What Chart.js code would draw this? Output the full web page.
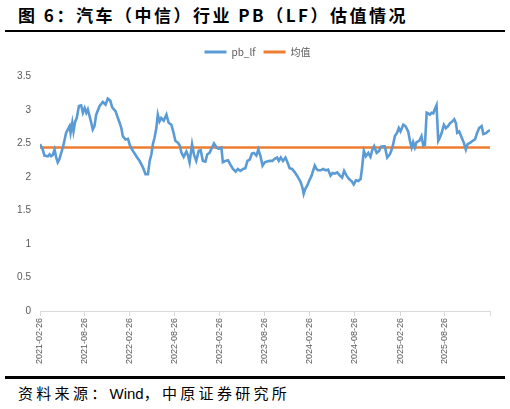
<!DOCTYPE html>
<html><head><meta charset="utf-8">
<script src="https://cdn.jsdelivr.net/npm/chart.js@4.4.1/dist/chart.umd.min.js"></script>
<style>
html,body{margin:0;padding:0;background:#fff;width:510px;height:409px;overflow:hidden;position:relative;font-family:"Noto Sans CJK SC",sans-serif}
#title{position:absolute;left:18px;top:3px;font-size:17px;font-weight:bold;letter-spacing:2.5px;color:#000;white-space:nowrap;line-height:24px}
#rule1{position:absolute;left:5px;top:30px;width:500px;height:2px;background:#000}
#rule2{position:absolute;left:5px;top:376px;width:500px;height:3px;background:#000}
#source{position:absolute;left:18px;top:383px;font-size:15px;letter-spacing:3.3px;color:#000;white-space:nowrap;line-height:20px}
#source .lat{letter-spacing:0;font-family:"Liberation Sans",sans-serif}
#wrap{position:absolute;left:0;top:36px;width:510px;height:336px}
</style></head>
<body>
<div id="title">图 6：汽车（中信）行业 PB（LF）估值情况</div>
<div id="rule1"></div>
<div id="wrap"><canvas id="c"></canvas></div>
<div id="rule2"></div>
<div id="source">资料来源：<span class="lat">Wind</span>，中原证券研究所</div>
<script>
const dates = [
"2021-02-26","2021-03-09","2021-03-16","2021-03-30","2021-04-06","2021-04-12","2021-04-19","2021-04-26","2021-05-03","2021-05-09",
"2021-05-16","2021-05-23","2021-05-30","2021-06-06","2021-06-12","2021-06-19","2021-06-26","2021-06-30","2021-07-07","2021-07-12",
"2021-07-19","2021-07-25","2021-08-03","2021-08-12","2021-08-19","2021-08-26","2021-09-02","2021-09-08","2021-09-15","2021-09-22",
"2021-09-28","2021-10-05","2021-10-12","2021-10-26","2021-11-08","2021-11-19","2021-11-28","2021-12-08","2021-12-16","2021-12-30",
"2022-01-08","2022-01-15","2022-01-22","2022-01-28","2022-02-08","2022-02-18","2022-02-27","2022-03-10","2022-03-24","2022-04-06",
"2022-04-20","2022-04-30","2022-05-10","2022-05-17","2022-05-24","2022-05-30","2022-06-06","2022-06-13","2022-06-19","2022-06-26",
"2022-07-03","2022-07-13","2022-07-24","2022-08-02","2022-08-13","2022-08-22","2022-08-29","2022-09-09","2022-09-16","2022-09-23",
"2022-10-02","2022-10-13","2022-10-19","2022-10-26","2022-11-05","2022-11-13","2022-11-22","2022-12-02","2022-12-10","2022-12-19",
"2022-12-29","2023-01-06","2023-01-15","2023-01-25","2023-02-02","2023-02-12","2023-02-22","2023-03-04","2023-03-10","2023-03-20",
"2023-03-31","2023-04-10","2023-04-20","2023-05-01","2023-05-10","2023-05-20","2023-05-31","2023-06-09","2023-06-18","2023-06-27",
"2023-07-06","2023-07-14","2023-07-24","2023-08-01","2023-08-09","2023-08-18","2023-08-27","2023-09-05","2023-09-16","2023-09-27",
"2023-10-06","2023-10-16","2023-10-23","2023-10-31","2023-11-09","2023-11-19","2023-11-27","2023-12-06","2023-12-16","2023-12-27",
"2024-01-05","2024-01-13","2024-01-20","2024-01-27","2024-02-01","2024-02-07","2024-02-15","2024-02-23","2024-03-04","2024-03-10",
"2024-03-17","2024-03-24","2024-03-30","2024-04-09","2024-04-20","2024-05-01","2024-05-10","2024-05-20","2024-05-28","2024-06-06",
"2024-06-16","2024-06-27","2024-07-06","2024-07-14","2024-07-24","2024-08-03","2024-08-13","2024-08-22","2024-08-31","2024-09-09",
"2024-09-19","2024-09-25","2024-10-02","2024-10-10","2024-10-20","2024-10-29","2024-11-06","2024-11-13","2024-11-23","2024-12-03",
"2024-12-10","2024-12-19","2024-12-26","2025-01-05","2025-01-16","2025-01-23","2025-01-29","2025-02-05","2025-02-14","2025-02-21",
"2025-02-28","2025-03-11","2025-03-20","2025-03-31","2025-04-07","2025-04-14","2025-04-20","2025-04-27","2025-05-04","2025-05-15",
"2025-05-24","2025-05-31","2025-06-07","2025-06-14","2025-06-20","2025-06-27","2025-07-04","2025-07-11","2025-07-17","2025-07-24",
"2025-07-31","2025-08-07","2025-08-14","2025-08-23","2025-08-31","2025-09-09","2025-09-16","2025-09-26","2025-10-04","2025-10-11",
"2025-10-16","2025-10-24","2025-11-03","2025-11-12","2025-11-20","2025-11-27","2025-12-07","2025-12-18","2025-12-27","2026-01-05",
"2026-01-13","2026-01-23","2026-01-30","2026-02-08","2026-02-17","2026-02-26"
];
const pbValues = [
2.49,2.41,2.32,2.31,2.34,2.31,2.33,2.41,2.29,2.22,
2.27,2.36,2.44,2.56,2.66,2.71,2.76,2.66,2.81,2.68,
2.83,2.88,3.06,3.07,2.96,3.03,2.96,3.01,2.91,2.81,
2.71,2.76,2.93,3.06,3.12,3.08,3.17,3.14,3.04,2.98,
2.88,2.81,2.73,2.61,2.56,2.57,2.46,2.39,2.31,2.24,
2.14,2.04,2.04,2.24,2.34,2.49,2.59,2.73,2.93,2.83,
2.88,2.84,2.93,2.81,2.78,2.66,2.54,2.51,2.47,2.36,
2.30,2.38,2.33,2.22,2.49,2.33,2.24,2.39,2.40,2.24,
2.23,2.34,2.36,2.44,2.50,2.44,2.42,2.44,2.22,2.24,
2.25,2.18,2.12,2.08,2.12,2.09,2.12,2.13,2.24,2.26,
2.35,2.36,2.32,2.41,2.32,2.17,2.22,2.23,2.24,2.24,
2.27,2.29,2.24,2.29,2.24,2.29,2.22,2.13,2.12,2.07,
2.02,1.97,1.92,1.84,1.75,1.82,1.87,1.94,2.02,2.09,
2.17,2.12,2.10,2.10,2.12,2.10,2.11,2.02,2.06,2.05,
2.07,2.02,1.99,2.09,2.02,1.97,1.94,1.89,1.95,1.94,
1.97,2.14,2.39,2.31,2.36,2.30,2.41,2.46,2.36,2.39,
2.45,2.46,2.46,2.29,2.34,2.41,2.49,2.61,2.66,2.73,
2.68,2.78,2.76,2.68,2.54,2.44,2.52,2.44,2.52,2.54,
2.61,2.47,2.48,2.96,2.95,2.93,2.96,2.95,3.01,3.07,
2.54,2.59,2.66,2.78,2.73,2.76,2.80,2.83,2.86,2.80,
2.66,2.68,2.59,2.51,2.41,2.49,2.51,2.54,2.56,2.66,
2.73,2.76,2.64,2.65,2.68,2.70
];
const avgValue = 2.44;
const tickLabels = ["2021-02-26","2021-08-26","2022-02-26","2022-08-26","2023-02-26","2023-08-26","2024-02-26","2024-08-26","2025-02-26","2025-08-26"];
const axisEnd = "2026-02-26";
const yTicks = [0,0.5,1,1.5,2,2.5,3,3.5];
const seriesNames = ["pb_lf","均值"];

const dayOf = s => { const p = s.split('-').map(Number); return Date.UTC(p[0], p[1]-1, p[2]) / 86400000; };
const tickDays = tickLabels.map(dayOf).concat([dayOf(axisEnd)]);
const labelFor = v => { const i = tickLabels.findIndex(t => dayOf(t) === v); return i >= 0 ? tickLabels[i] : ''; };

const pbPoints = dates.map((d, i) => ({x: dayOf(d), y: pbValues[i]}));
const avgPoints = dates.map(d => ({x: dayOf(d), y: avgValue}));

const legendTweak = {
  id: 'legendTweak',
  beforeInit(chart) {
    const lg = chart.legend;
    if (!lg) return;
    const origFit = lg.fit;
    lg.fit = function () { origFit.call(this); this.height += 9.5; };
    const origDraw = lg.draw;
    lg.draw = function () {
      const ctx = this.ctx;
      ctx.save();
      ctx.translate(12.5, 0);
      origDraw.call(this);
      ctx.restore();
    };
  }
};

const tickColor = '#595959';
new Chart(document.getElementById('c'), {
  type: 'line',
  data: {
    datasets: [
      {label: seriesNames[0], data: pbPoints, borderColor: '#5B9BD5', backgroundColor: '#5B9BD5', borderWidth: 2.6, pointRadius: 0, tension: 0},
      {label: seriesNames[1], data: avgPoints, borderColor: '#ED7D31', backgroundColor: '#ED7D31', borderWidth: 2.6, pointRadius: 0, tension: 0}
    ]
  },
  plugins: [legendTweak],
  options: {
    responsive: true, maintainAspectRatio: false, animation: false,
    layout: {padding: {left: 0, right: 20, top: 3, bottom: 0}},
    plugins: {
      tooltip: {enabled: false},
      legend: {
        display: true, position: 'top',
        labels: {
          boxWidth: 22, boxHeight: 3, padding: 8, color: tickColor,
          font: {family: '"Noto Sans CJK SC", "Liberation Sans", sans-serif', size: 10},
          generateLabels: chart => Chart.defaults.plugins.legend.labels.generateLabels(chart).map(l => Object.assign(l, {lineWidth: 0}))
        }
      }
    },
    scales: {
      x: {
        type: 'linear', min: dayOf(tickLabels[0]), max: dayOf(axisEnd),
        afterBuildTicks: s => { s.ticks = tickDays.map(v => ({value: v})); },
        afterFit: s => { s.height = 61; },
        border: {display: true, color: '#D9D9D9', width: 1},
        grid: {display: true, drawOnChartArea: false, drawTicks: true, tickLength: 5, color: '#D9D9D9'},
        ticks: {
          autoSkip: false, minRotation: 90, maxRotation: 90, padding: 2, color: tickColor,
          font: {family: '"Liberation Sans", sans-serif', size: 9},
          callback: v => labelFor(v)
        }
      },
      y: {
        min: 0, max: 3.5,
        afterBuildTicks: s => { s.ticks = yTicks.map(v => ({value: v})); },
        afterFit: s => { s.width = 40; },
        border: {display: false},
        grid: {display: false, drawTicks: false},
        ticks: {
          padding: 9, color: tickColor,
          font: {family: '"Liberation Sans", sans-serif', size: 10},
          callback: v => String(v)
        }
      }
    }
  }
});
</script>
</body></html>
